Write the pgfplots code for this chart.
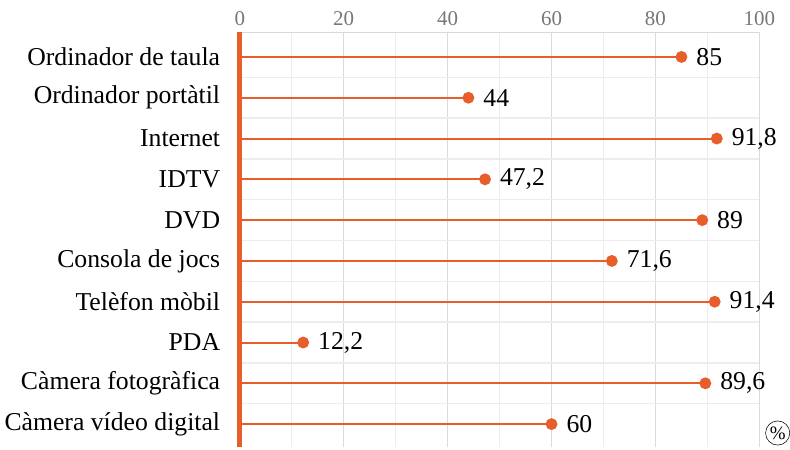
\documentclass[border=0pt]{standalone}
\usepackage{pgfplots}
\pgfplotsset{compat=1.18}
\usepackage{fontspec}
\setmainfont{Liberation Serif}
\definecolor{lolli}{HTML}{E85E2A}
\definecolor{tickgray}{HTML}{777777}
\begin{document}
\begin{tikzpicture}
\begin{axis}[
  scale only axis, width=384pt, height=306pt,
  xmin=0, xmax=100, ymin=0.4, ymax=10.55, y dir=reverse,
  axis x line*=top, axis y line*=left,
  x axis line style={-, draw=gray!30, line width=1pt},
  y axis line style={-, draw=lolli, line width=3.8pt},
  xtick={0,20,...,100}, minor xtick={10,30,...,90},
  ytick={1,...,10}, minor ytick={1.5,2.5,...,9.5},
  yticklabels={Ordinador de taula,Ordinador portàtil,Internet,IDTV,DVD,Consola de jocs,Telèfon mòbil,PDA,Càmera fotogràfica,Càmera vídeo digital},
  major tick length=0pt, minor tick length=0pt,
  xmajorgrids, xminorgrids, yminorgrids,
  major grid style={draw=gray!28, line width=1pt},
  minor grid style={draw=gray!14, line width=1pt},
  x tick label style={font=\fontsize{15.5}{18}\selectfont, text=tickgray},
  xticklabel style={yshift=1.5pt},
  y tick label style={font=\fontsize{19}{22}\selectfont, xshift=-11pt},
  /pgf/number format/assume math mode=true,
  clip=false,
  point meta=x,
  nodes near coords,
  nodes near coords style={font=\fontsize{19}{22}\selectfont, anchor=west, xshift=7pt,
    /pgf/number format/.cd, fixed, precision=1, use comma},
]
\addplot[xcomb, draw=lolli, line width=1.5pt, mark=*, mark size=3.6pt, mark options={fill=lolli, draw=lolli}]
  coordinates {(85,1) (44,2) (91.8,3) (47.2,4) (89,5) (71.6,6) (91.4,7) (12.2,8) (89.6,9) (60,10)};
\node[draw=black, circle, inner sep=1pt, font=\fontsize{14}{16}\selectfont] at ([xshift=13.5pt, yshift=10pt]rel axis cs:1,0) {\%};
\path ([yshift=24pt]rel axis cs:0,1) coordinate (topspace);
\end{axis}
\end{tikzpicture}
\end{document}
